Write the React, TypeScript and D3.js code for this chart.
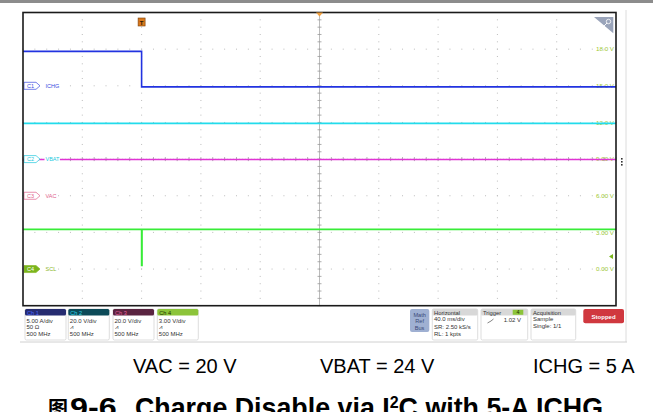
import React from "react";
import * as d3 from "d3";

// ---- data ----
const timeDomainMs = [-80, 320]; // 40 ms/div, trigger 2 div from left
const chNames = ["C1", "C2", "C3", "C4"];
const chLabels = ["ICHG", "VBAT", "VAC", "SCL"];
const chScales = [5, 20, 20, 3]; // units per division
const chOffsets = [2, 0, -1, -3]; // ground marker position (divisions from centre)

// traces: times (ms) and values (channel units)
const ichgT = [-80, 0, 0, 320];
const ichgV = [4.7, 4.7, -0.15, -0.15];
const vbatT = [-80, 320];
const vbatV = [19.5, 19.5];
const vacT = [-80, 320];
const vacV = [19.8, 19.8];
const sclT = [-80, 0, 0, 0.3, 0.3, 320];
const sclV = [3.25, 3.25, 0.3, 0.3, 3.25, 3.25];

const rightTickLabels = ["0.00 V", "3.00 V", "6.00 V", "9.00 V", "12.0 V", "15.0 V", "18.0 V"];
const rightTickDivs = [-3, -2, -1, 0, 1, 2, 3];

const chBoxHeaders = ["Ch 1", "Ch 2", "Ch 3", "Ch 4"];
const chBoxLine1 = ["5.00 A/div", "20.0 V/div", "20.0 V/div", "3.00 V/div"];
const chBoxLine2 = ["50 Ω", "⩘", "⩘", "⩘"];
const chBoxLine3 = ["500 MHz", "500 MHz", "500 MHz", "500 MHz"];

const captionTexts = ["VAC = 20 V", "VBAT = 24 V", "ICHG = 5 A"];

// ---- styles ----
const traceColors = ["#2233e0", "#22dcec", "#e034d4", "#38ec38"];
const labelColors = ["#3a4ae0", "#22c8dc", "#e0608c", "#8ab82a"];
const headerFills = ["#262c70", "#0c4a58", "#5a2440", "#8cc43a"];
const headerText = ["#4a66ff", "#30d8e8", "#e8609c", "#1c3000"];
const uiFont = "'Liberation Sans Narrow', 'Liberation Sans', Arial, sans-serif";
const capFont = "'Liberation Sans', Arial, 'Noto Sans CJK SC', sans-serif";

const L = 23, R = 616, T = 12.5, B = 305.7;

export default function App() {
  const x = d3.scaleLinear().domain(timeDomainMs).range([L, R]);
  const yDiv = d3.scaleLinear().domain([4, -4]).range([T, B]);
  const xDiv = d3.scaleLinear().domain([0, 10]).range([L, R]);
  const yOf = (ch: number) => (v: number) => yDiv(chOffsets[ch] + v / chScales[ch]);

  const line = (ts: number[], vs: number[], ch: number) =>
    d3.line<number>()
      .x((_, i) => x(ts[i]))
      .y((_, i) => yOf(ch)(vs[i]))(ts.map((_, i) => i)) || "";

  const traces = [
    { t: ichgT, v: ichgV, ch: 0 },
    { t: vbatT, v: vbatV, ch: 1 },
    { t: vacT, v: vacV, ch: 2 },
    { t: sclT, v: sclV, ch: 3 },
  ];

  // grid dots
  const dots: JSX.Element[] = [];
  const hDivs = d3.range(1, 10);
  const vDivs = d3.range(-3, 4);
  hDivs.forEach((i) => {
    if (i === 5) return;
    d3.range(0, 8 * 5 + 1).forEach((k) => {
      const yy = yDiv(4 - k / 5);
      dots.push(<rect key={`vd${i}-${k}`} x={xDiv(i) - 0.5} y={yy - 0.5} width={1} height={1} fill="#bcbcbc" />);
    });
  });
  vDivs.forEach((j) => {
    if (j === 0) return;
    d3.range(0, 10 * 5 + 1).forEach((k) => {
      const xx = xDiv(k / 5);
      dots.push(<rect key={`hd${j}-${k}`} x={xx - 0.5} y={yDiv(j) - 0.5} width={1} height={1} fill="#bcbcbc" />);
    });
  });
  // centre crosshair ticks
  const ticks: JSX.Element[] = [];
  d3.range(0, 41).forEach((k) => {
    const yy = yDiv(4 - k / 5);
    ticks.push(<line key={`ct${k}`} x1={xDiv(5) - 2} x2={xDiv(5) + 2} y1={yy} y2={yy} stroke="#999" strokeWidth={0.8} />);
  });
  d3.range(0, 51).forEach((k) => {
    const xx = xDiv(k / 5);
    ticks.push(<line key={`cth${k}`} x1={xx} x2={xx} y1={yDiv(0) - 2} y2={yDiv(0) + 2} stroke="#999" strokeWidth={0.8} />);
  });

  const chBoxX = [25, 68.3, 113, 157.3];
  const chBoxW = 41;

  const marker = (ch: number) => {
    const y = yDiv(chOffsets[ch]);
    const x0 = 24;
    const pts = `${x0},${y - 3.5} ${x0 + 12},${y - 3.5} ${x0 + 16},${y} ${x0 + 12},${y + 3.5} ${x0},${y + 3.5}`;
    const filled = ch === 3;
    return (
      <g key={`m${ch}`}>
        <polygon points={pts} fill={filled ? "#7ab51d" : "#fff"} stroke={labelColors[ch]} strokeWidth={0.7} />
        <text x={x0 + 6.5} y={y + 2} fontSize={5.5} fontFamily={uiFont} textAnchor="middle" fill={filled ? "#fff" : labelColors[ch]}>{chNames[ch]}</text>
        <rect x={44.5} y={y - 3} width={chLabels[ch].length * 3.6 + 1} height={6} fill="#fff" />
        <text x={45.5} y={y + 2} fontSize={5.5} fontFamily={uiFont} fill={labelColors[ch]}>{chLabels[ch]}</text>
      </g>
    );
  };

  return (
    <svg width={653} height={412} style={{ position: "absolute", left: 0, top: 0, background: "#fff" }}>
      {/* top bar */}
      <rect x={0} y={0} width={653} height={3} fill="#8c8c8c" />
      {/* right divider */}
      <line x1={626} x2={626} y1={10} y2={342} stroke="#dcdcdc" strokeWidth={1} />
      <line x1={20} x2={627} y1={342} y2={342} stroke="#d0d0d0" strokeWidth={1} />
      {/* grid */}
      {dots}
      <line x1={xDiv(5)} x2={xDiv(5)} y1={T} y2={B} stroke="#aaa" strokeWidth={0.8} />
      <line x1={L} x2={R} y1={yDiv(0)} y2={yDiv(0)} stroke="#c8c8c8" strokeWidth={0.6} strokeDasharray="1,2" />
      {ticks}
      {/* right tick labels */}
      {rightTickLabels.map((s, i) => (
        <text key={s} x={614} y={yDiv(rightTickDivs[i]) + 2.2} fontSize={6.2} fontFamily={uiFont} textAnchor="end" fill="#9cc832">{s}</text>
      ))}
      {/* traces */}
      {traces.map((tr) => (
        <path key={tr.ch} d={line(tr.t, tr.v, tr.ch)} fill="none" stroke={traceColors[tr.ch]} strokeWidth={1.6} />
      ))}
      {/* channel markers */}
      {[0, 1, 2, 3].map(marker)}
      {/* frame */}
      <rect x={L} y={T} width={R - L} height={B - T} fill="none" stroke="#1a1a1a" strokeWidth={1.6} />
      {/* trigger marker */}
      <rect x={x(0) - 3.5} y={18} width={7} height={8} fill="#d9791c" stroke="#7a3e08" strokeWidth={0.6} />
      <text x={x(0)} y={24.5} fontSize={6} fontWeight="bold" fontFamily={uiFont} textAnchor="middle" fill="#2a1a08">T</text>
      <polygon points={`${xDiv(5) - 3.5},${T} ${xDiv(5) + 3.5},${T} ${xDiv(5)},${T + 4}`} fill="#f0a040" />
      {/* zoom icon */}
      <polygon points="594,17 613.3,17 613.3,33.3" fill="#9aa4ba" />
      <circle cx={608.5} cy={21.5} r={2.2} fill="none" stroke="#fff" strokeWidth={0.8} />
      <line x1={607} x2={604} y1={23} y2={26} stroke="#fff" strokeWidth={0.9} />
      {/* trigger level arrow */}
      <polygon points={`609,${yDiv(-3 + 1.02 / 3)} 613,${yDiv(-3 + 1.02 / 3) - 2.5} 613,${yDiv(-3 + 1.02 / 3) + 2.5}`} fill="#7ab51d" />
      {/* three dots */}
      {[158, 161, 164].map((yy) => <rect key={yy} x={621} y={yy} width={1.6} height={1.6} fill="#333" />)}
      {/* channel boxes */}
      {chBoxHeaders.map((h, i) => (
        <g key={h}>
          <rect x={chBoxX[i]} y={309} width={chBoxW} height={31} rx={1.5} fill="#fff" stroke="#cfcfcf" strokeWidth={0.7} />
          <rect x={chBoxX[i]} y={309} width={chBoxW} height={6.5} rx={1.5} fill={headerFills[i]} />
          <text x={chBoxX[i] + 2} y={314.6} fontSize={5.6} fontFamily={uiFont} fill={headerText[i]}>{h}</text>
          <text x={chBoxX[i] + 1.5} y={322.5} fontSize={6} fontFamily={uiFont} fill="#333">{chBoxLine1[i]}</text>
          <text x={chBoxX[i] + 1.5} y={329} fontSize={6} fontFamily={uiFont} fill="#333">{chBoxLine2[i]}</text>
          <text x={chBoxX[i] + 1.5} y={336.2} fontSize={6} fontFamily={uiFont} fill="#333">{chBoxLine3[i]}</text>
        </g>
      ))}
      {/* Math Ref Bus */}
      <rect x={410} y={309} width={19.3} height={23} rx={2} fill="#9fb0d2" />
      {["Math", "Ref", "Bus"].map((s, i) => (
        <text key={s} x={419.6} y={316.5 + i * 6.8} fontSize={5.6} fontFamily={uiFont} textAnchor="middle" fill="#3a4a78">{s}</text>
      ))}
      {/* Horizontal */}
      <rect x={432.3} y={309} width={45.4} height={31} rx={1.5} fill="#fff" stroke="#cfcfcf" strokeWidth={0.7} />
      <rect x={432.3} y={309} width={45.4} height={6.5} rx={1.5} fill="#d8d8d8" />
      <text x={434} y={314.6} fontSize={5.8} fontFamily={uiFont} fill="#333">Horizontal</text>
      <text x={434} y={321} fontSize={6} fontFamily={uiFont} fill="#333">40.0 ms/div</text>
      <text x={434} y={328.5} fontSize={6} fontFamily={uiFont} fill="#333">SR: 2.50 kS/s</text>
      <text x={434} y={336} fontSize={6} fontFamily={uiFont} fill="#333">RL: 1 kpts</text>
      {/* Trigger */}
      <rect x={481} y={309} width={46.7} height={31} rx={1.5} fill="#fff" stroke="#cfcfcf" strokeWidth={0.7} />
      <rect x={481} y={309} width={46.7} height={6.5} rx={1.5} fill="#d8d8d8" />
      <text x={483} y={314.6} fontSize={5.8} fontFamily={uiFont} fill="#333">Trigger</text>
      <rect x={512.7} y={309.8} width={10.6} height={5} fill="#8cc43a" />
      <text x={518} y={314.4} fontSize={5.4} fontFamily={uiFont} textAnchor="middle" fill="#1c3000">4</text>
      <path d="M487.5,323 L491,321 L493.5,319" fill="none" stroke="#333" strokeWidth={0.6} />
      <text x={521} y={321.5} fontSize={6} fontFamily={uiFont} textAnchor="end" fill="#333">1.02 V</text>
      {/* Acquisition */}
      <rect x={531} y={309} width={44.7} height={31} rx={1.5} fill="#fff" stroke="#cfcfcf" strokeWidth={0.7} />
      <rect x={531} y={309} width={44.7} height={6.5} rx={1.5} fill="#d8d8d8" />
      <text x={533} y={314.6} fontSize={5.8} fontFamily={uiFont} fill="#333">Acquisition</text>
      <text x={533} y={321} fontSize={6} fontFamily={uiFont} fill="#333">Sample</text>
      <text x={533} y={328} fontSize={6} fontFamily={uiFont} fill="#333">Single: 1/1</text>
      {/* Stopped */}
      <rect x={583.3} y={309} width={40.7} height={14.3} rx={2} fill="#d0383f" />
      <text x={603.6} y={318.6} fontSize={6} fontWeight="bold" fontFamily={uiFont} textAnchor="middle" fill="#fff">Stopped</text>
      {/* captions */}
      {captionTexts.map((s, i) => (
        <text key={s} x={[133, 320, 533][i]} y={373} fontSize={20} fontFamily={capFont} fill="#000">{s}</text>
      ))}
      <text x={48} y={416} fontSize={20} fontWeight="bold" fontFamily={capFont} fill="#000">图</text>
      <text x={70} y={417} fontSize={26.8} fontWeight="bold" fontFamily={capFont} fill="#000" textLength={46.7} lengthAdjust="spacingAndGlyphs">9-6</text>
      <text x={135} y={417} fontSize={26.8} fontWeight="bold" fontFamily={capFont} fill="#000">
        Charge Disable via I<tspan dy={-9} fontSize={16}>2</tspan><tspan dy={9}>C with 5-A ICHG</tspan>
      </text>
    </svg>
  );
}
